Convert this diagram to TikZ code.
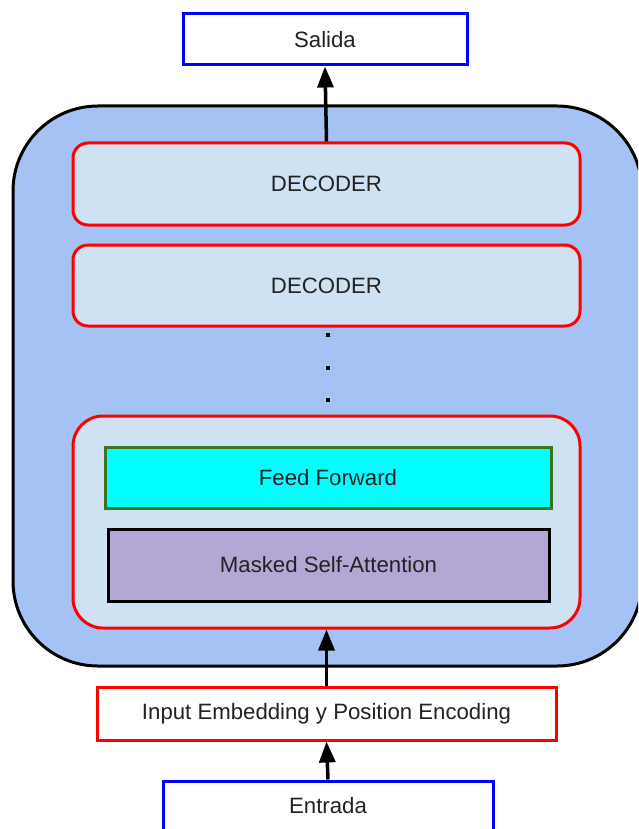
\documentclass[tikz,border=0pt]{standalone}
\usepackage{fontspec}
\setmainfont{Liberation Sans}
\usetikzlibrary{arrows.meta}
\definecolor{stackblue}{HTML}{A4C2F4}
\definecolor{layerblue}{HTML}{CFE2F3}
\definecolor{ffcyan}{HTML}{00FFFF}
\definecolor{ffgreen}{HTML}{38761D}
\definecolor{attnpurple}{HTML}{B4A7D6}
\definecolor{txt}{HTML}{222222}
\tikzset{
  box/.style={draw, line width=3pt, minimum width=#1, inner sep=0pt, text=txt,
    font=\fontsize{22.2}{26}\selectfont},
  iobox/.style={box=#1, draw=blue, fill=white},
  decbox/.style={box=#1, draw=red, fill=layerblue, rounded corners=15pt},
  flow/.style={line width=3.5pt, -{Triangle[width=16pt,length=21pt]}},
  dot/.style={fill=black, minimum size=4.5pt, inner sep=0pt}
}
\begin{document}
\begin{tikzpicture}[x=1pt,y=-1pt]
\clip (0,0) rectangle (638,829);
% decoder stack
\node[draw=black, line width=3pt, fill=stackblue, rounded corners=85pt,
      minimum width=629pt, minimum height=560pt] (stack) at (327.5,386) {};
\node[decbox=507pt, minimum height=82pt] (deca) at (326.5,184) {DECODER};
\node[decbox=507pt, minimum height=81pt] (decb) at (326.5,285.5) {DECODER};
\node[dot] (d1) at (328,335) {};
\node[dot] (d2) at (328,368) {};
\node[dot] (d3) at (328,400) {};
\node[decbox=507pt, rounded corners=30pt, minimum height=212pt] (decc) at (326.5,522) {};
\node[box=446pt, draw=ffgreen, fill=ffcyan, minimum height=61pt] (ff) at (328,477.5) {Feed Forward};
\node[box=441pt, draw=black, fill=attnpurple, minimum height=72pt] (msa) at (328.5,565) {Masked Self-Attention};
% input and output
\node[iobox=284pt, minimum height=51pt] (salida) at (325,39.5) {Salida};
\node[box=459pt, draw=red, fill=white, minimum height=53pt] (emb) at (326.5,713.5) {Input Embedding y Position Encoding};
\node[iobox=330pt, minimum height=50pt] (entrada) at (328,806) {Entrada};
% connectors
\draw[flow] (deca.north) -- (salida.south);
\draw[flow] (emb.north) -- (decc.south);
\draw[flow] (entrada.north) -- (emb.south);
\end{tikzpicture}
\end{document}
